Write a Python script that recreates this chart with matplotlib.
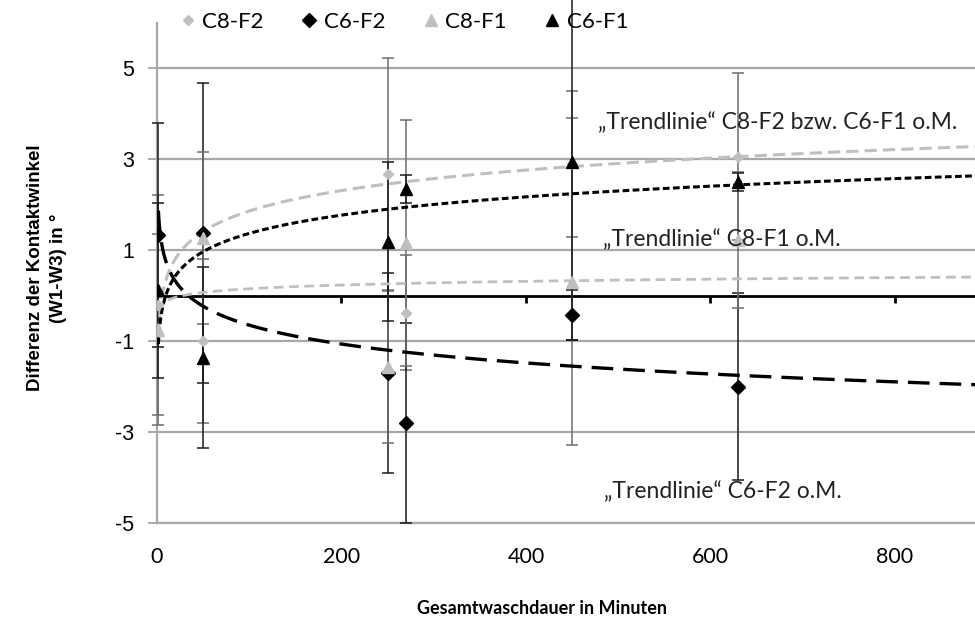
import numpy as np
import matplotlib
matplotlib.use("Agg")
import matplotlib.pyplot as plt
from matplotlib.lines import Line2D

# Gesamtwaschdauer (min) je Messpunkt
t_min = [1, 50, 250, 270, 450, 630]

# Differenz der Kontaktwinkel W1-W3 und Fehlerbalken (+/-)
d_c8f2 = [-0.2, -0.99, 2.68, -0.37, 2.9, 3.06]
e_c8f2 = [2.42, 1.8, 2.55, 1.27, 1.6, 1.84]

d_c6f2 = [1.34, 1.38, -1.7, -2.8, -0.42, -2.0]
e_c6f2 = [2.46, 3.3, 2.2, 2.2, 0.55, 2.05]

d_c8f1 = [-0.75, 1.27, -1.56, 1.16, 0.31, 1.23]
e_c8f1 = [2.1, 1.9, 1.67, 2.7, 3.6, 1.5]

d_c6f1 = [0.12, -1.36, 1.19, 2.35, 2.95, 2.51]
e_c6f1 = [1.92, 2.0, 1.75, 0.3, 3.92, 0.2]

# logarithmische Trendlinien y = a*ln(t) + b
trend_names = ["C8-F2", "C6-F1", "C8-F1", "C6-F2"]
trend_a = [0.65, 0.58, 0.118, -0.6]
trend_b = [-1.13, -1.30, -0.39, 2.116]

x_ticks = [0, 200, 400, 600, 800]
y_ticks = [-5, -3, -1, 1, 3, 5]
XMIN, XMAX = 0, 887
YMIN, YMAX = -5, 6

GRAY = "#BFBFBF"
GRID = "#A8A8A8"

plt.rcParams["font.family"] = ["Lato", "DejaVu Sans"]
plt.rcParams["axes.unicode_minus"] = False

fig = plt.figure(figsize=(9.75, 6.22), dpi=100)
ax = fig.add_axes([157 / 975, 1 - 523 / 622, 1 - 157 / 975, (523 - 23) / 622])
ax.set_xlim(XMIN, XMAX)
ax.set_ylim(YMIN, YMAX)

# Fehlerbalken
for d, e, c in [(d_c8f2, e_c8f2, "#6E6E6E"), (d_c6f2, e_c6f2, "#1A1A1A"),
                (d_c8f1, e_c8f1, "#6E6E6E"), (d_c6f1, e_c6f1, "#1A1A1A")]:
    eb = ax.errorbar(t_min, d, yerr=e, fmt="none", ecolor=c, elinewidth=1.1,
                     capsize=4, capthick=1.1, zorder=3)
    for art in list(eb.lines[1]) + list(eb.lines[2]):
        art.set_clip_on(False)

# Trendlinien
tt = np.geomspace(1.5, XMAX, 400)
styles = {
    "C8-F2": dict(color=GRAY, lw=2.2, dashes=(4.0, 2.0)),
    "C6-F1": dict(color="black", lw=2.2, dashes=(2.2, 1.1)),
    "C8-F1": dict(color=GRAY, lw=2.0, dashes=(3.5, 2.0)),
    "C6-F2": dict(color="black", lw=2.4, dashes=(6.5, 3.0)),
}
for name, a, b in zip(trend_names, trend_a, trend_b):
    ax.plot(tt, a * np.log(tt) + b, zorder=4, **styles[name])

# Messpunkte
ax.plot(t_min, d_c8f2, "D", color=GRAY, ms=5.5, ls="none", zorder=5)
ax.plot(t_min, d_c6f2, "D", color="black", ms=7, ls="none", zorder=5)
ax.plot(t_min, d_c8f1, "^", color=GRAY, ms=9, ls="none", zorder=5)
ax.plot(t_min, d_c6f1, "^", color="black", ms=9, ls="none", zorder=6)

# Achsen
ax.set_yticks(y_ticks)
ax.set_xticks(x_ticks)
ax.yaxis.grid(True, color=GRID, lw=1.6)
ax.set_axisbelow(True)
for s in ["top", "right"]:
    ax.spines[s].set_visible(False)
ax.spines["left"].set_color(GRID)
ax.spines["left"].set_linewidth(1.6)
ax.spines["bottom"].set_color(GRID)
ax.spines["bottom"].set_linewidth(1.6)
ax.tick_params(axis="y", length=6.5, width=1.4, color=GRID, pad=10,
               labelsize=15.5)
for lbl in ax.get_yticklabels():
    lbl.set_family("Liberation Sans")
ax.tick_params(axis="x", length=0, pad=17, labelsize=15.5)

# Nulllinie mit Teilstrichen
zero = ax.secondary_xaxis((0 - YMIN) / (YMAX - YMIN))
zero.set_xticks(x_ticks)
zero.spines["bottom"].set_color("black")
zero.spines["bottom"].set_linewidth(2)
zero.tick_params(axis="x", length=5, width=2, color="black", labelbottom=False)

# Beschriftung der Trendlinien
ax.text(478, 3.82, "\u201eTrendlinie\u201c C8-F2 bzw. C6-F1 o.M.", fontsize=16.5,
        va="center", ha="left", color="#222222", zorder=7)
ax.text(484, 1.23, "\u201eTrendlinie\u201c C8-F1 o.M.", fontsize=16.5,
        va="center", ha="left", color="#222222", zorder=7)
ax.text(485, -4.31, "\u201eTrendlinie\u201c C6-F2 o.M.", fontsize=16.5,
        va="center", ha="left", color="#222222", zorder=7)

fig.text(0.048, 0.569, "Differenz der Kontaktwinkel\n(W1-W3) in \u00b0",
         rotation=90, ha="center", va="center", fontsize=13.5,
         fontweight="bold", family="Liberation Sans", linespacing=1.45)
fig.text(0.556, 1 - 608 / 622, "Gesamtwaschdauer in Minuten", ha="center",
         va="center", fontsize=13, fontweight="bold")

handles = [
    Line2D([], [], marker="D", color=GRAY, ms=5.5, ls="none"),
    Line2D([], [], marker="D", color="black", ms=7, ls="none"),
    Line2D([], [], marker="^", color=GRAY, ms=8, ls="none"),
    Line2D([], [], marker="^", color="black", ms=8, ls="none"),
]
fig.legend(handles, ["C8-F2", "C6-F2", "C8-F1", "C6-F1"], ncol=4,
           loc="center", bbox_to_anchor=(404 / 975, 1 - 22 / 622),
           frameon=False, fontsize=16, handlelength=0.7, handletextpad=0.3,
           columnspacing=1.7)

fig.savefig("out.png", dpi=100)
